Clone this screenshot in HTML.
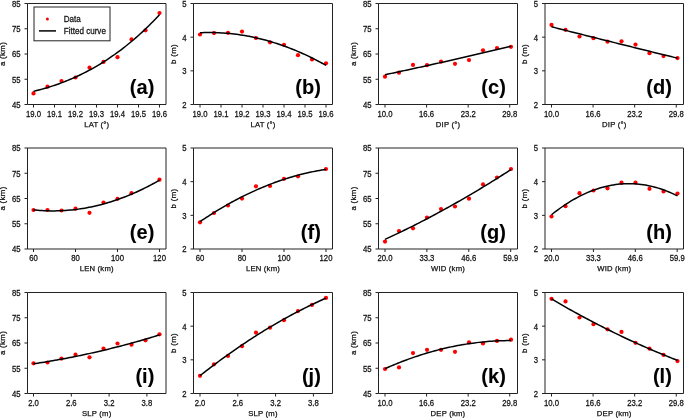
<!DOCTYPE html>
<html><head><meta charset="utf-8"><style>
html,body{margin:0;padding:0;background:#fff;}
svg{display:block;will-change:transform;}
text{font-family:"Liberation Sans",sans-serif;fill:#111;stroke:#111;stroke-width:0.25px;}
text.pl{stroke:#000;stroke-width:0.1px;fill:#000;}
</style></head><body>
<svg width="685" height="418" viewBox="0 0 685 418">
<rect width="685" height="418" fill="#fff"/>
<path d="M27.5 3.5H166V104.5H27.5Z" fill="none" stroke="#222" stroke-width="1"/>
<text transform="translate(33.5 116.7) scale(0.92 1)" font-size="8.4" text-anchor="middle">19.0</text>
<text transform="translate(54.5 116.7) scale(0.92 1)" font-size="8.4" text-anchor="middle">19.1</text>
<text transform="translate(75.5 116.7) scale(0.92 1)" font-size="8.4" text-anchor="middle">19.2</text>
<text transform="translate(96.5 116.7) scale(0.92 1)" font-size="8.4" text-anchor="middle">19.3</text>
<text transform="translate(117.5 116.7) scale(0.92 1)" font-size="8.4" text-anchor="middle">19.4</text>
<text transform="translate(138.5 116.7) scale(0.92 1)" font-size="8.4" text-anchor="middle">19.5</text>
<text transform="translate(159.5 116.7) scale(0.92 1)" font-size="8.4" text-anchor="middle">19.6</text>
<text transform="translate(20.5 107.9) scale(0.92 1)" font-size="8.4" text-anchor="end">45</text>
<text transform="translate(20.5 82.65) scale(0.92 1)" font-size="8.4" text-anchor="end">55</text>
<text transform="translate(20.5 57.4) scale(0.92 1)" font-size="8.4" text-anchor="end">65</text>
<text transform="translate(20.5 32.15) scale(0.92 1)" font-size="8.4" text-anchor="end">75</text>
<text transform="translate(20.5 6.9) scale(0.92 1)" font-size="8.4" text-anchor="end">85</text>
<path d="M33.5 104.5v3M54.5 104.5v3M75.5 104.5v3M96.5 104.5v3M117.5 104.5v3M138.5 104.5v3M159.5 104.5v3M27.5 104.5h-3M27.5 79.25h-3M27.5 54h-3M27.5 28.75h-3M27.5 3.5h-3" stroke="#222" stroke-width="1"/>
<text transform="translate(96.75 126.8)" font-size="7.7" text-anchor="middle" letter-spacing="0.2">LAT (°)</text>
<text transform="translate(5.2 54) rotate(-90)" font-size="7.8" text-anchor="middle" letter-spacing="0.35">a (km)</text>
<circle cx="33.5" cy="93.4" r="2.1" fill="#f00"/>
<circle cx="47.5" cy="86.7" r="2.1" fill="#f00"/>
<circle cx="61.5" cy="81" r="2.1" fill="#f00"/>
<circle cx="75.5" cy="77.5" r="2.1" fill="#f00"/>
<circle cx="89.5" cy="67.7" r="2.1" fill="#f00"/>
<circle cx="103.5" cy="61.9" r="2.1" fill="#f00"/>
<circle cx="117.5" cy="57.2" r="2.1" fill="#f00"/>
<circle cx="131.5" cy="39.4" r="2.1" fill="#f00"/>
<circle cx="145.5" cy="30.3" r="2.1" fill="#f00"/>
<circle cx="159.5" cy="13" r="2.1" fill="#f00"/>
<path d="M33.5 91.36 L35.64 90.84 L37.77 90.3 L39.91 89.73 L42.04 89.15 L44.18 88.55 L46.31 87.92 L48.45 87.27 L50.58 86.6 L52.72 85.91 L54.86 85.2 L56.99 84.46 L59.13 83.7 L61.26 82.91 L63.4 82.11 L65.53 81.27 L67.67 80.41 L69.81 79.53 L71.94 78.62 L74.08 77.69 L76.21 76.72 L78.35 75.74 L80.48 74.72 L82.62 73.68 L84.75 72.61 L86.89 71.51 L89.03 70.38 L91.16 69.22 L93.3 68.04 L95.43 66.82 L97.57 65.58 L99.7 64.3 L101.84 62.99 L103.97 61.66 L106.11 60.29 L108.25 58.88 L110.38 57.45 L112.52 55.98 L114.65 54.49 L116.79 52.95 L118.92 51.39 L121.06 49.79 L123.19 48.15 L125.33 46.48 L127.47 44.78 L129.6 43.04 L131.74 41.26 L133.87 39.45 L136.01 37.6 L138.14 35.71 L140.28 33.79 L142.42 31.83 L144.55 29.83 L146.69 27.79 L148.82 25.71 L150.96 23.59 L153.09 21.44 L155.23 19.24 L157.36 17.01 L159.5 14.73" fill="none" stroke="#000" stroke-width="1.5"/>
<text transform="translate(154.3 94.1)" font-size="20" text-anchor="end" font-weight="bold" class="pl">(a)</text>
<path d="M193.5 3.5H332.5V104.5H193.5Z" fill="none" stroke="#222" stroke-width="1"/>
<text transform="translate(200 116.7) scale(0.92 1)" font-size="8.4" text-anchor="middle">19.0</text>
<text transform="translate(221 116.7) scale(0.92 1)" font-size="8.4" text-anchor="middle">19.1</text>
<text transform="translate(242 116.7) scale(0.92 1)" font-size="8.4" text-anchor="middle">19.2</text>
<text transform="translate(263 116.7) scale(0.92 1)" font-size="8.4" text-anchor="middle">19.3</text>
<text transform="translate(284 116.7) scale(0.92 1)" font-size="8.4" text-anchor="middle">19.4</text>
<text transform="translate(305 116.7) scale(0.92 1)" font-size="8.4" text-anchor="middle">19.5</text>
<text transform="translate(326 116.7) scale(0.92 1)" font-size="8.4" text-anchor="middle">19.6</text>
<text transform="translate(186.5 107.9) scale(0.92 1)" font-size="8.4" text-anchor="end">2</text>
<text transform="translate(186.5 74.23) scale(0.92 1)" font-size="8.4" text-anchor="end">3</text>
<text transform="translate(186.5 40.57) scale(0.92 1)" font-size="8.4" text-anchor="end">4</text>
<text transform="translate(186.5 6.9) scale(0.92 1)" font-size="8.4" text-anchor="end">5</text>
<path d="M200 104.5v3M221 104.5v3M242 104.5v3M263 104.5v3M284 104.5v3M305 104.5v3M326 104.5v3M193.5 104.5h-3M193.5 70.83h-3M193.5 37.17h-3M193.5 3.5h-3" stroke="#222" stroke-width="1"/>
<text transform="translate(263 126.8)" font-size="7.7" text-anchor="middle" letter-spacing="0.2">LAT (°)</text>
<text transform="translate(175.7 54) rotate(-90)" font-size="7.8" text-anchor="middle" letter-spacing="0.35">b (m)</text>
<circle cx="200" cy="34.5" r="2.1" fill="#f00"/>
<circle cx="214" cy="33.1" r="2.1" fill="#f00"/>
<circle cx="228" cy="32.8" r="2.1" fill="#f00"/>
<circle cx="242" cy="31.6" r="2.1" fill="#f00"/>
<circle cx="256" cy="38" r="2.1" fill="#f00"/>
<circle cx="270" cy="42.3" r="2.1" fill="#f00"/>
<circle cx="284" cy="44.8" r="2.1" fill="#f00"/>
<circle cx="298" cy="55.2" r="2.1" fill="#f00"/>
<circle cx="312" cy="59.5" r="2.1" fill="#f00"/>
<circle cx="326" cy="63.3" r="2.1" fill="#f00"/>
<path d="M200 32.75 L202.14 32.66 L204.27 32.6 L206.41 32.56 L208.54 32.54 L210.68 32.55 L212.81 32.57 L214.95 32.62 L217.08 32.69 L219.22 32.78 L221.36 32.89 L223.49 33.03 L225.63 33.19 L227.76 33.37 L229.9 33.57 L232.03 33.79 L234.17 34.03 L236.31 34.3 L238.44 34.59 L240.58 34.9 L242.71 35.23 L244.85 35.59 L246.98 35.96 L249.12 36.36 L251.25 36.78 L253.39 37.23 L255.53 37.69 L257.66 38.18 L259.8 38.69 L261.93 39.22 L264.07 39.77 L266.2 40.34 L268.34 40.94 L270.47 41.56 L272.61 42.2 L274.75 42.86 L276.88 43.54 L279.02 44.25 L281.15 44.98 L283.29 45.73 L285.42 46.5 L287.56 47.29 L289.69 48.11 L291.83 48.94 L293.97 49.8 L296.1 50.68 L298.24 51.59 L300.37 52.51 L302.51 53.46 L304.64 54.43 L306.78 55.42 L308.92 56.43 L311.05 57.47 L313.19 58.53 L315.32 59.6 L317.46 60.71 L319.59 61.83 L321.73 62.97 L323.86 64.14 L326 65.33" fill="none" stroke="#000" stroke-width="1.5"/>
<text transform="translate(320.8 94.1)" font-size="20" text-anchor="end" font-weight="bold" class="pl">(b)</text>
<path d="M378.5 3.5H517.5V104.5H378.5Z" fill="none" stroke="#222" stroke-width="1"/>
<text transform="translate(385 116.7) scale(0.92 1)" font-size="8.4" text-anchor="middle">10.0</text>
<text transform="translate(426.58 116.7) scale(0.92 1)" font-size="8.4" text-anchor="middle">16.6</text>
<text transform="translate(468.16 116.7) scale(0.92 1)" font-size="8.4" text-anchor="middle">23.2</text>
<text transform="translate(509.74 116.7) scale(0.92 1)" font-size="8.4" text-anchor="middle">29.8</text>
<text transform="translate(371.5 107.9) scale(0.92 1)" font-size="8.4" text-anchor="end">45</text>
<text transform="translate(371.5 82.65) scale(0.92 1)" font-size="8.4" text-anchor="end">55</text>
<text transform="translate(371.5 57.4) scale(0.92 1)" font-size="8.4" text-anchor="end">65</text>
<text transform="translate(371.5 32.15) scale(0.92 1)" font-size="8.4" text-anchor="end">75</text>
<text transform="translate(371.5 6.9) scale(0.92 1)" font-size="8.4" text-anchor="end">85</text>
<path d="M385 104.5v3M426.58 104.5v3M468.16 104.5v3M509.74 104.5v3M378.5 104.5h-3M378.5 79.25h-3M378.5 54h-3M378.5 28.75h-3M378.5 3.5h-3" stroke="#222" stroke-width="1"/>
<text transform="translate(448 126.8)" font-size="7.7" text-anchor="middle" letter-spacing="0.2">DIP (°)</text>
<text transform="translate(356.2 54) rotate(-90)" font-size="7.8" text-anchor="middle" letter-spacing="0.35">a (km)</text>
<circle cx="385" cy="76.7" r="2.1" fill="#f00"/>
<circle cx="399" cy="72.7" r="2.1" fill="#f00"/>
<circle cx="413" cy="64.9" r="2.1" fill="#f00"/>
<circle cx="427" cy="65.2" r="2.1" fill="#f00"/>
<circle cx="441" cy="61.7" r="2.1" fill="#f00"/>
<circle cx="455" cy="63.8" r="2.1" fill="#f00"/>
<circle cx="469" cy="60.1" r="2.1" fill="#f00"/>
<circle cx="483" cy="50.3" r="2.1" fill="#f00"/>
<circle cx="497" cy="48" r="2.1" fill="#f00"/>
<circle cx="511" cy="46.8" r="2.1" fill="#f00"/>
<path d="M385 74.74 L387.14 74.28 L389.27 73.83 L391.41 73.38 L393.54 72.92 L395.68 72.46 L397.81 72.01 L399.95 71.55 L402.08 71.09 L404.22 70.63 L406.36 70.16 L408.49 69.7 L410.63 69.24 L412.76 68.77 L414.9 68.31 L417.03 67.84 L419.17 67.37 L421.31 66.9 L423.44 66.43 L425.58 65.96 L427.71 65.49 L429.85 65.02 L431.98 64.54 L434.12 64.07 L436.25 63.59 L438.39 63.11 L440.53 62.63 L442.66 62.15 L444.8 61.67 L446.93 61.19 L449.07 60.71 L451.2 60.23 L453.34 59.74 L455.47 59.25 L457.61 58.77 L459.75 58.28 L461.88 57.79 L464.02 57.3 L466.15 56.81 L468.29 56.32 L470.42 55.82 L472.56 55.33 L474.69 54.83 L476.83 54.34 L478.97 53.84 L481.1 53.34 L483.24 52.84 L485.37 52.34 L487.51 51.84 L489.64 51.34 L491.78 50.83 L493.92 50.33 L496.05 49.82 L498.19 49.32 L500.32 48.81 L502.46 48.3 L504.59 47.79 L506.73 47.28 L508.86 46.77 L511 46.25" fill="none" stroke="#000" stroke-width="1.5"/>
<text transform="translate(505.8 94.1)" font-size="20" text-anchor="end" font-weight="bold" class="pl">(c)</text>
<path d="M545 3.5H683.5V104.5H545Z" fill="none" stroke="#222" stroke-width="1"/>
<text transform="translate(551.5 116.7) scale(0.92 1)" font-size="8.4" text-anchor="middle">10.0</text>
<text transform="translate(593.08 116.7) scale(0.92 1)" font-size="8.4" text-anchor="middle">16.6</text>
<text transform="translate(634.66 116.7) scale(0.92 1)" font-size="8.4" text-anchor="middle">23.2</text>
<text transform="translate(676.24 116.7) scale(0.92 1)" font-size="8.4" text-anchor="middle">29.8</text>
<text transform="translate(538 107.9) scale(0.92 1)" font-size="8.4" text-anchor="end">2</text>
<text transform="translate(538 74.23) scale(0.92 1)" font-size="8.4" text-anchor="end">3</text>
<text transform="translate(538 40.57) scale(0.92 1)" font-size="8.4" text-anchor="end">4</text>
<text transform="translate(538 6.9) scale(0.92 1)" font-size="8.4" text-anchor="end">5</text>
<path d="M551.5 104.5v3M593.08 104.5v3M634.66 104.5v3M676.24 104.5v3M545 104.5h-3M545 70.83h-3M545 37.17h-3M545 3.5h-3" stroke="#222" stroke-width="1"/>
<text transform="translate(614.25 126.8)" font-size="7.7" text-anchor="middle" letter-spacing="0.2">DIP (°)</text>
<text transform="translate(527.2 54) rotate(-90)" font-size="7.8" text-anchor="middle" letter-spacing="0.35">b (m)</text>
<circle cx="551.5" cy="24.9" r="2.1" fill="#f00"/>
<circle cx="565.5" cy="29.8" r="2.1" fill="#f00"/>
<circle cx="579.5" cy="36.5" r="2.1" fill="#f00"/>
<circle cx="593.5" cy="38.2" r="2.1" fill="#f00"/>
<circle cx="607.5" cy="41.7" r="2.1" fill="#f00"/>
<circle cx="621.5" cy="41.3" r="2.1" fill="#f00"/>
<circle cx="635.5" cy="44.6" r="2.1" fill="#f00"/>
<circle cx="649.5" cy="53.2" r="2.1" fill="#f00"/>
<circle cx="663.5" cy="56.1" r="2.1" fill="#f00"/>
<circle cx="677.5" cy="58.1" r="2.1" fill="#f00"/>
<path d="M551.5 26.8 L553.64 27.34 L555.77 27.88 L557.91 28.42 L560.04 28.96 L562.18 29.5 L564.31 30.04 L566.45 30.58 L568.58 31.12 L570.72 31.66 L572.86 32.2 L574.99 32.73 L577.13 33.27 L579.26 33.81 L581.4 34.35 L583.53 34.88 L585.67 35.42 L587.81 35.96 L589.94 36.49 L592.08 37.03 L594.21 37.56 L596.35 38.1 L598.48 38.63 L600.62 39.16 L602.75 39.7 L604.89 40.23 L607.03 40.76 L609.16 41.3 L611.3 41.83 L613.43 42.36 L615.57 42.89 L617.7 43.42 L619.84 43.95 L621.97 44.48 L624.11 45.01 L626.25 45.54 L628.38 46.07 L630.52 46.6 L632.65 47.13 L634.79 47.66 L636.92 48.19 L639.06 48.71 L641.19 49.24 L643.33 49.77 L645.47 50.3 L647.6 50.82 L649.74 51.35 L651.87 51.87 L654.01 52.4 L656.14 52.92 L658.28 53.45 L660.42 53.97 L662.55 54.5 L664.69 55.02 L666.82 55.54 L668.96 56.07 L671.09 56.59 L673.23 57.11 L675.36 57.63 L677.5 58.15" fill="none" stroke="#000" stroke-width="1.5"/>
<text transform="translate(671.8 94.1)" font-size="20" text-anchor="end" font-weight="bold" class="pl">(d)</text>
<path d="M27.5 148H166V249H27.5Z" fill="none" stroke="#222" stroke-width="1"/>
<text transform="translate(33.5 261.2) scale(0.92 1)" font-size="8.4" text-anchor="middle">60</text>
<text transform="translate(75.5 261.2) scale(0.92 1)" font-size="8.4" text-anchor="middle">80</text>
<text transform="translate(117.5 261.2) scale(0.92 1)" font-size="8.4" text-anchor="middle">100</text>
<text transform="translate(159.5 261.2) scale(0.92 1)" font-size="8.4" text-anchor="middle">120</text>
<text transform="translate(20.5 252.4) scale(0.92 1)" font-size="8.4" text-anchor="end">45</text>
<text transform="translate(20.5 227.15) scale(0.92 1)" font-size="8.4" text-anchor="end">55</text>
<text transform="translate(20.5 201.9) scale(0.92 1)" font-size="8.4" text-anchor="end">65</text>
<text transform="translate(20.5 176.65) scale(0.92 1)" font-size="8.4" text-anchor="end">75</text>
<text transform="translate(20.5 151.4) scale(0.92 1)" font-size="8.4" text-anchor="end">85</text>
<path d="M33.5 249v3M75.5 249v3M117.5 249v3M159.5 249v3M27.5 249h-3M27.5 223.75h-3M27.5 198.5h-3M27.5 173.25h-3M27.5 148h-3" stroke="#222" stroke-width="1"/>
<text transform="translate(96.75 271.3)" font-size="7.7" text-anchor="middle" letter-spacing="0.2">LEN (km)</text>
<text transform="translate(5.2 198.5) rotate(-90)" font-size="7.8" text-anchor="middle" letter-spacing="0.35">a (km)</text>
<circle cx="33.5" cy="210" r="2.1" fill="#f00"/>
<circle cx="47.5" cy="210" r="2.1" fill="#f00"/>
<circle cx="61.5" cy="210.5" r="2.1" fill="#f00"/>
<circle cx="75.5" cy="208.7" r="2.1" fill="#f00"/>
<circle cx="89.5" cy="212.8" r="2.1" fill="#f00"/>
<circle cx="103.5" cy="202.5" r="2.1" fill="#f00"/>
<circle cx="117.5" cy="198.8" r="2.1" fill="#f00"/>
<circle cx="131.5" cy="193.2" r="2.1" fill="#f00"/>
<circle cx="159.5" cy="179.7" r="2.1" fill="#f00"/>
<path d="M33.5 209.89 L35.64 210.1 L37.77 210.29 L39.91 210.45 L42.04 210.59 L44.18 210.7 L46.31 210.78 L48.45 210.85 L50.58 210.88 L52.72 210.9 L54.86 210.89 L56.99 210.85 L59.13 210.79 L61.26 210.7 L63.4 210.59 L65.53 210.46 L67.67 210.3 L69.81 210.11 L71.94 209.91 L74.08 209.67 L76.21 209.41 L78.35 209.13 L80.48 208.82 L82.62 208.49 L84.75 208.14 L86.89 207.75 L89.03 207.35 L91.16 206.92 L93.3 206.46 L95.43 205.98 L97.57 205.48 L99.7 204.95 L101.84 204.4 L103.97 203.82 L106.11 203.22 L108.25 202.59 L110.38 201.94 L112.52 201.26 L114.65 200.56 L116.79 199.83 L118.92 199.08 L121.06 198.31 L123.19 197.51 L125.33 196.68 L127.47 195.83 L129.6 194.96 L131.74 194.06 L133.87 193.14 L136.01 192.19 L138.14 191.22 L140.28 190.22 L142.42 189.2 L144.55 188.16 L146.69 187.08 L148.82 185.99 L150.96 184.87 L153.09 183.73 L155.23 182.56 L157.36 181.36 L159.5 180.14" fill="none" stroke="#000" stroke-width="1.5"/>
<text transform="translate(154.3 238.6)" font-size="20" text-anchor="end" font-weight="bold" class="pl">(e)</text>
<path d="M193.5 148H332.5V249H193.5Z" fill="none" stroke="#222" stroke-width="1"/>
<text transform="translate(200 261.2) scale(0.92 1)" font-size="8.4" text-anchor="middle">60</text>
<text transform="translate(242 261.2) scale(0.92 1)" font-size="8.4" text-anchor="middle">80</text>
<text transform="translate(284 261.2) scale(0.92 1)" font-size="8.4" text-anchor="middle">100</text>
<text transform="translate(326 261.2) scale(0.92 1)" font-size="8.4" text-anchor="middle">120</text>
<text transform="translate(186.5 252.4) scale(0.92 1)" font-size="8.4" text-anchor="end">2</text>
<text transform="translate(186.5 218.73) scale(0.92 1)" font-size="8.4" text-anchor="end">3</text>
<text transform="translate(186.5 185.07) scale(0.92 1)" font-size="8.4" text-anchor="end">4</text>
<text transform="translate(186.5 151.4) scale(0.92 1)" font-size="8.4" text-anchor="end">5</text>
<path d="M200 249v3M242 249v3M284 249v3M326 249v3M193.5 249h-3M193.5 215.33h-3M193.5 181.67h-3M193.5 148h-3" stroke="#222" stroke-width="1"/>
<text transform="translate(263 271.3)" font-size="7.7" text-anchor="middle" letter-spacing="0.2">LEN (km)</text>
<text transform="translate(175.7 198.5) rotate(-90)" font-size="7.8" text-anchor="middle" letter-spacing="0.35">b (m)</text>
<circle cx="200" cy="222.3" r="2.1" fill="#f00"/>
<circle cx="214" cy="213" r="2.1" fill="#f00"/>
<circle cx="228" cy="205.5" r="2.1" fill="#f00"/>
<circle cx="242" cy="198.6" r="2.1" fill="#f00"/>
<circle cx="256" cy="186.3" r="2.1" fill="#f00"/>
<circle cx="270" cy="186" r="2.1" fill="#f00"/>
<circle cx="284" cy="178.8" r="2.1" fill="#f00"/>
<circle cx="298" cy="176.3" r="2.1" fill="#f00"/>
<circle cx="326" cy="169" r="2.1" fill="#f00"/>
<path d="M200 221.67 L202.14 220.23 L204.27 218.8 L206.41 217.4 L208.54 216.01 L210.68 214.64 L212.81 213.29 L214.95 211.96 L217.08 210.65 L219.22 209.36 L221.36 208.09 L223.49 206.84 L225.63 205.61 L227.76 204.39 L229.9 203.2 L232.03 202.02 L234.17 200.87 L236.31 199.73 L238.44 198.61 L240.58 197.52 L242.71 196.44 L244.85 195.38 L246.98 194.34 L249.12 193.32 L251.25 192.31 L253.39 191.33 L255.53 190.37 L257.66 189.42 L259.8 188.5 L261.93 187.59 L264.07 186.71 L266.2 185.84 L268.34 184.99 L270.47 184.17 L272.61 183.36 L274.75 182.57 L276.88 181.8 L279.02 181.04 L281.15 180.31 L283.29 179.6 L285.42 178.91 L287.56 178.23 L289.69 177.58 L291.83 176.94 L293.97 176.32 L296.1 175.73 L298.24 175.15 L300.37 174.59 L302.51 174.05 L304.64 173.53 L306.78 173.03 L308.92 172.55 L311.05 172.09 L313.19 171.64 L315.32 171.22 L317.46 170.81 L319.59 170.43 L321.73 170.06 L323.86 169.72 L326 169.39" fill="none" stroke="#000" stroke-width="1.5"/>
<text transform="translate(320.8 238.6)" font-size="20" text-anchor="end" font-weight="bold" class="pl">(f)</text>
<path d="M378.5 148H517.5V249H378.5Z" fill="none" stroke="#222" stroke-width="1"/>
<text transform="translate(385 261.2) scale(0.92 1)" font-size="8.4" text-anchor="middle">20.0</text>
<text transform="translate(426.89 261.2) scale(0.92 1)" font-size="8.4" text-anchor="middle">33.3</text>
<text transform="translate(468.79 261.2) scale(0.92 1)" font-size="8.4" text-anchor="middle">46.6</text>
<text transform="translate(510.69 261.2) scale(0.92 1)" font-size="8.4" text-anchor="middle">59.9</text>
<text transform="translate(371.5 252.4) scale(0.92 1)" font-size="8.4" text-anchor="end">45</text>
<text transform="translate(371.5 227.15) scale(0.92 1)" font-size="8.4" text-anchor="end">55</text>
<text transform="translate(371.5 201.9) scale(0.92 1)" font-size="8.4" text-anchor="end">65</text>
<text transform="translate(371.5 176.65) scale(0.92 1)" font-size="8.4" text-anchor="end">75</text>
<text transform="translate(371.5 151.4) scale(0.92 1)" font-size="8.4" text-anchor="end">85</text>
<path d="M385 249v3M426.89 249v3M468.79 249v3M510.69 249v3M378.5 249h-3M378.5 223.75h-3M378.5 198.5h-3M378.5 173.25h-3M378.5 148h-3" stroke="#222" stroke-width="1"/>
<text transform="translate(448 271.3)" font-size="7.7" text-anchor="middle" letter-spacing="0.2">WID (km)</text>
<text transform="translate(356.2 198.5) rotate(-90)" font-size="7.8" text-anchor="middle" letter-spacing="0.35">a (km)</text>
<circle cx="385" cy="241.6" r="2.1" fill="#f00"/>
<circle cx="399" cy="231.1" r="2.1" fill="#f00"/>
<circle cx="413" cy="228.3" r="2.1" fill="#f00"/>
<circle cx="427" cy="217.6" r="2.1" fill="#f00"/>
<circle cx="441" cy="209" r="2.1" fill="#f00"/>
<circle cx="455" cy="206.5" r="2.1" fill="#f00"/>
<circle cx="469" cy="198.7" r="2.1" fill="#f00"/>
<circle cx="483" cy="184.4" r="2.1" fill="#f00"/>
<circle cx="497" cy="177.5" r="2.1" fill="#f00"/>
<circle cx="511" cy="169" r="2.1" fill="#f00"/>
<path d="M385 239.43 L387.14 238.44 L389.27 237.44 L391.41 236.44 L393.54 235.43 L395.68 234.42 L397.81 233.39 L399.95 232.37 L402.08 231.33 L404.22 230.29 L406.36 229.24 L408.49 228.18 L410.63 227.12 L412.76 226.05 L414.9 224.97 L417.03 223.89 L419.17 222.8 L421.31 221.7 L423.44 220.6 L425.58 219.49 L427.71 218.37 L429.85 217.25 L431.98 216.11 L434.12 214.98 L436.25 213.83 L438.39 212.68 L440.53 211.52 L442.66 210.36 L444.8 209.19 L446.93 208.01 L449.07 206.82 L451.2 205.63 L453.34 204.43 L455.47 203.23 L457.61 202.02 L459.75 200.8 L461.88 199.57 L464.02 198.34 L466.15 197.1 L468.29 195.86 L470.42 194.6 L472.56 193.34 L474.69 192.08 L476.83 190.8 L478.97 189.52 L481.1 188.24 L483.24 186.94 L485.37 185.64 L487.51 184.34 L489.64 183.02 L491.78 181.7 L493.92 180.38 L496.05 179.04 L498.19 177.7 L500.32 176.35 L502.46 175 L504.59 173.64 L506.73 172.27 L508.86 170.9 L511 169.52" fill="none" stroke="#000" stroke-width="1.5"/>
<text transform="translate(505.8 238.6)" font-size="20" text-anchor="end" font-weight="bold" class="pl">(g)</text>
<path d="M545 148H683.5V249H545Z" fill="none" stroke="#222" stroke-width="1"/>
<text transform="translate(551.5 261.2) scale(0.92 1)" font-size="8.4" text-anchor="middle">20.0</text>
<text transform="translate(593.39 261.2) scale(0.92 1)" font-size="8.4" text-anchor="middle">33.3</text>
<text transform="translate(635.29 261.2) scale(0.92 1)" font-size="8.4" text-anchor="middle">46.6</text>
<text transform="translate(677.18 261.2) scale(0.92 1)" font-size="8.4" text-anchor="middle">59.9</text>
<text transform="translate(538 252.4) scale(0.92 1)" font-size="8.4" text-anchor="end">2</text>
<text transform="translate(538 218.73) scale(0.92 1)" font-size="8.4" text-anchor="end">3</text>
<text transform="translate(538 185.07) scale(0.92 1)" font-size="8.4" text-anchor="end">4</text>
<text transform="translate(538 151.4) scale(0.92 1)" font-size="8.4" text-anchor="end">5</text>
<path d="M551.5 249v3M593.39 249v3M635.29 249v3M677.18 249v3M545 249h-3M545 215.33h-3M545 181.67h-3M545 148h-3" stroke="#222" stroke-width="1"/>
<text transform="translate(614.25 271.3)" font-size="7.7" text-anchor="middle" letter-spacing="0.2">WID (km)</text>
<text transform="translate(527.2 198.5) rotate(-90)" font-size="7.8" text-anchor="middle" letter-spacing="0.35">b (m)</text>
<circle cx="551.5" cy="216.5" r="2.1" fill="#f00"/>
<circle cx="565.5" cy="206.2" r="2.1" fill="#f00"/>
<circle cx="579.5" cy="193.2" r="2.1" fill="#f00"/>
<circle cx="593.5" cy="190.5" r="2.1" fill="#f00"/>
<circle cx="607.5" cy="188.3" r="2.1" fill="#f00"/>
<circle cx="621.5" cy="182.7" r="2.1" fill="#f00"/>
<circle cx="635.5" cy="182.7" r="2.1" fill="#f00"/>
<circle cx="649.5" cy="188.8" r="2.1" fill="#f00"/>
<circle cx="663.5" cy="191.4" r="2.1" fill="#f00"/>
<circle cx="677.5" cy="193.5" r="2.1" fill="#f00"/>
<path d="M551.5 214.72 L553.64 213.03 L555.77 211.39 L557.91 209.79 L560.04 208.25 L562.18 206.75 L564.31 205.29 L566.45 203.89 L568.58 202.53 L570.72 201.22 L572.86 199.95 L574.99 198.74 L577.13 197.57 L579.26 196.44 L581.4 195.37 L583.53 194.34 L585.67 193.36 L587.81 192.43 L589.94 191.54 L592.08 190.7 L594.21 189.91 L596.35 189.17 L598.48 188.47 L600.62 187.82 L602.75 187.22 L604.89 186.66 L607.03 186.15 L609.16 185.69 L611.3 185.28 L613.43 184.91 L615.57 184.59 L617.7 184.32 L619.84 184.09 L621.97 183.92 L624.11 183.79 L626.25 183.7 L628.38 183.67 L630.52 183.68 L632.65 183.74 L634.79 183.84 L636.92 183.99 L639.06 184.19 L641.19 184.44 L643.33 184.74 L645.47 185.08 L647.6 185.47 L649.74 185.9 L651.87 186.39 L654.01 186.92 L656.14 187.5 L658.28 188.12 L660.42 188.79 L662.55 189.51 L664.69 190.28 L666.82 191.09 L668.96 191.95 L671.09 192.86 L673.23 193.82 L675.36 194.82 L677.5 195.87" fill="none" stroke="#000" stroke-width="1.5"/>
<text transform="translate(671.8 238.6)" font-size="20" text-anchor="end" font-weight="bold" class="pl">(h)</text>
<path d="M27.5 292.5H166V393.5H27.5Z" fill="none" stroke="#222" stroke-width="1"/>
<text transform="translate(33.5 405.7) scale(0.92 1)" font-size="8.4" text-anchor="middle">2.0</text>
<text transform="translate(71.3 405.7) scale(0.92 1)" font-size="8.4" text-anchor="middle">2.6</text>
<text transform="translate(109.1 405.7) scale(0.92 1)" font-size="8.4" text-anchor="middle">3.2</text>
<text transform="translate(146.9 405.7) scale(0.92 1)" font-size="8.4" text-anchor="middle">3.8</text>
<text transform="translate(20.5 396.9) scale(0.92 1)" font-size="8.4" text-anchor="end">45</text>
<text transform="translate(20.5 371.65) scale(0.92 1)" font-size="8.4" text-anchor="end">55</text>
<text transform="translate(20.5 346.4) scale(0.92 1)" font-size="8.4" text-anchor="end">65</text>
<text transform="translate(20.5 321.15) scale(0.92 1)" font-size="8.4" text-anchor="end">75</text>
<text transform="translate(20.5 295.9) scale(0.92 1)" font-size="8.4" text-anchor="end">85</text>
<path d="M33.5 393.5v3M71.3 393.5v3M109.1 393.5v3M146.9 393.5v3M27.5 393.5h-3M27.5 368.25h-3M27.5 343h-3M27.5 317.75h-3M27.5 292.5h-3" stroke="#222" stroke-width="1"/>
<text transform="translate(96.75 415.8)" font-size="7.7" text-anchor="middle" letter-spacing="0.2">SLP (m)</text>
<text transform="translate(5.2 343) rotate(-90)" font-size="7.8" text-anchor="middle" letter-spacing="0.35">a (km)</text>
<circle cx="33.5" cy="363.3" r="2.1" fill="#f00"/>
<circle cx="47.5" cy="362.5" r="2.1" fill="#f00"/>
<circle cx="61.5" cy="358.6" r="2.1" fill="#f00"/>
<circle cx="75.5" cy="354.7" r="2.1" fill="#f00"/>
<circle cx="89.5" cy="357.3" r="2.1" fill="#f00"/>
<circle cx="103.5" cy="348.5" r="2.1" fill="#f00"/>
<circle cx="117.5" cy="343.5" r="2.1" fill="#f00"/>
<circle cx="131.5" cy="344.7" r="2.1" fill="#f00"/>
<circle cx="145.5" cy="340.3" r="2.1" fill="#f00"/>
<circle cx="159.5" cy="334.3" r="2.1" fill="#f00"/>
<path d="M33.5 363.79 L35.64 363.48 L37.77 363.15 L39.91 362.82 L42.04 362.49 L44.18 362.15 L46.31 361.8 L48.45 361.45 L50.58 361.09 L52.72 360.72 L54.86 360.35 L56.99 359.97 L59.13 359.59 L61.26 359.2 L63.4 358.81 L65.53 358.41 L67.67 358 L69.81 357.59 L71.94 357.17 L74.08 356.75 L76.21 356.32 L78.35 355.88 L80.48 355.44 L82.62 354.99 L84.75 354.54 L86.89 354.08 L89.03 353.61 L91.16 353.14 L93.3 352.66 L95.43 352.18 L97.57 351.69 L99.7 351.19 L101.84 350.69 L103.97 350.19 L106.11 349.67 L108.25 349.15 L110.38 348.63 L112.52 348.1 L114.65 347.56 L116.79 347.02 L118.92 346.47 L121.06 345.92 L123.19 345.35 L125.33 344.79 L127.47 344.22 L129.6 343.64 L131.74 343.05 L133.87 342.46 L136.01 341.87 L138.14 341.27 L140.28 340.66 L142.42 340.04 L144.55 339.42 L146.69 338.8 L148.82 338.17 L150.96 337.53 L153.09 336.89 L155.23 336.24 L157.36 335.58 L159.5 334.92" fill="none" stroke="#000" stroke-width="1.5"/>
<text transform="translate(154.3 383.1)" font-size="20" text-anchor="end" font-weight="bold" class="pl">(i)</text>
<path d="M193.5 292.5H332.5V393.5H193.5Z" fill="none" stroke="#222" stroke-width="1"/>
<text transform="translate(200 405.7) scale(0.92 1)" font-size="8.4" text-anchor="middle">2.0</text>
<text transform="translate(237.8 405.7) scale(0.92 1)" font-size="8.4" text-anchor="middle">2.6</text>
<text transform="translate(275.6 405.7) scale(0.92 1)" font-size="8.4" text-anchor="middle">3.2</text>
<text transform="translate(313.4 405.7) scale(0.92 1)" font-size="8.4" text-anchor="middle">3.8</text>
<text transform="translate(186.5 396.9) scale(0.92 1)" font-size="8.4" text-anchor="end">2</text>
<text transform="translate(186.5 363.23) scale(0.92 1)" font-size="8.4" text-anchor="end">3</text>
<text transform="translate(186.5 329.57) scale(0.92 1)" font-size="8.4" text-anchor="end">4</text>
<text transform="translate(186.5 295.9) scale(0.92 1)" font-size="8.4" text-anchor="end">5</text>
<path d="M200 393.5v3M237.8 393.5v3M275.6 393.5v3M313.4 393.5v3M193.5 393.5h-3M193.5 359.83h-3M193.5 326.17h-3M193.5 292.5h-3" stroke="#222" stroke-width="1"/>
<text transform="translate(263 415.8)" font-size="7.7" text-anchor="middle" letter-spacing="0.2">SLP (m)</text>
<text transform="translate(175.7 343) rotate(-90)" font-size="7.8" text-anchor="middle" letter-spacing="0.35">b (m)</text>
<circle cx="200" cy="375.8" r="2.1" fill="#f00"/>
<circle cx="214" cy="364.3" r="2.1" fill="#f00"/>
<circle cx="228" cy="355.9" r="2.1" fill="#f00"/>
<circle cx="242" cy="346.2" r="2.1" fill="#f00"/>
<circle cx="256" cy="332.6" r="2.1" fill="#f00"/>
<circle cx="270" cy="327.7" r="2.1" fill="#f00"/>
<circle cx="284" cy="320.2" r="2.1" fill="#f00"/>
<circle cx="298" cy="311.1" r="2.1" fill="#f00"/>
<circle cx="312" cy="304.9" r="2.1" fill="#f00"/>
<circle cx="326" cy="297.9" r="2.1" fill="#f00"/>
<path d="M200 375.69 L202.14 374.01 L204.27 372.34 L206.41 370.68 L208.54 369.04 L210.68 367.4 L212.81 365.79 L214.95 364.18 L217.08 362.59 L219.22 361 L221.36 359.44 L223.49 357.88 L225.63 356.34 L227.76 354.81 L229.9 353.29 L232.03 351.79 L234.17 350.29 L236.31 348.81 L238.44 347.35 L240.58 345.89 L242.71 344.45 L244.85 343.02 L246.98 341.6 L249.12 340.2 L251.25 338.81 L253.39 337.43 L255.53 336.06 L257.66 334.71 L259.8 333.37 L261.93 332.04 L264.07 330.73 L266.2 329.43 L268.34 328.14 L270.47 326.86 L272.61 325.59 L274.75 324.34 L276.88 323.1 L279.02 321.87 L281.15 320.66 L283.29 319.46 L285.42 318.27 L287.56 317.09 L289.69 315.93 L291.83 314.78 L293.97 313.64 L296.1 312.51 L298.24 311.4 L300.37 310.3 L302.51 309.21 L304.64 308.14 L306.78 307.08 L308.92 306.03 L311.05 304.99 L313.19 303.96 L315.32 302.95 L317.46 301.95 L319.59 300.97 L321.73 299.99 L323.86 299.03 L326 298.08" fill="none" stroke="#000" stroke-width="1.5"/>
<text transform="translate(320.8 383.1)" font-size="20" text-anchor="end" font-weight="bold" class="pl">(j)</text>
<path d="M378.5 292.5H517.5V393.5H378.5Z" fill="none" stroke="#222" stroke-width="1"/>
<text transform="translate(385 405.7) scale(0.92 1)" font-size="8.4" text-anchor="middle">10.0</text>
<text transform="translate(426.58 405.7) scale(0.92 1)" font-size="8.4" text-anchor="middle">16.6</text>
<text transform="translate(468.16 405.7) scale(0.92 1)" font-size="8.4" text-anchor="middle">23.2</text>
<text transform="translate(509.74 405.7) scale(0.92 1)" font-size="8.4" text-anchor="middle">29.8</text>
<text transform="translate(371.5 396.9) scale(0.92 1)" font-size="8.4" text-anchor="end">45</text>
<text transform="translate(371.5 371.65) scale(0.92 1)" font-size="8.4" text-anchor="end">55</text>
<text transform="translate(371.5 346.4) scale(0.92 1)" font-size="8.4" text-anchor="end">65</text>
<text transform="translate(371.5 321.15) scale(0.92 1)" font-size="8.4" text-anchor="end">75</text>
<text transform="translate(371.5 295.9) scale(0.92 1)" font-size="8.4" text-anchor="end">85</text>
<path d="M385 393.5v3M426.58 393.5v3M468.16 393.5v3M509.74 393.5v3M378.5 393.5h-3M378.5 368.25h-3M378.5 343h-3M378.5 317.75h-3M378.5 292.5h-3" stroke="#222" stroke-width="1"/>
<text transform="translate(448 415.8)" font-size="7.7" text-anchor="middle" letter-spacing="0.2">DEP (km)</text>
<text transform="translate(356.2 343) rotate(-90)" font-size="7.8" text-anchor="middle" letter-spacing="0.35">a (km)</text>
<circle cx="385" cy="369" r="2.1" fill="#f00"/>
<circle cx="399" cy="367.4" r="2.1" fill="#f00"/>
<circle cx="413" cy="353.1" r="2.1" fill="#f00"/>
<circle cx="427" cy="349.8" r="2.1" fill="#f00"/>
<circle cx="441" cy="349.8" r="2.1" fill="#f00"/>
<circle cx="455" cy="351.8" r="2.1" fill="#f00"/>
<circle cx="469" cy="342.4" r="2.1" fill="#f00"/>
<circle cx="483" cy="343.4" r="2.1" fill="#f00"/>
<circle cx="497" cy="340.9" r="2.1" fill="#f00"/>
<circle cx="511" cy="339.7" r="2.1" fill="#f00"/>
<path d="M385 368.65 L387.14 367.7 L389.27 366.78 L391.41 365.87 L393.54 364.97 L395.68 364.09 L397.81 363.23 L399.95 362.38 L402.08 361.55 L404.22 360.74 L406.36 359.94 L408.49 359.15 L410.63 358.39 L412.76 357.64 L414.9 356.9 L417.03 356.19 L419.17 355.48 L421.31 354.8 L423.44 354.13 L425.58 353.48 L427.71 352.84 L429.85 352.22 L431.98 351.61 L434.12 351.02 L436.25 350.45 L438.39 349.89 L440.53 349.35 L442.66 348.83 L444.8 348.32 L446.93 347.83 L449.07 347.35 L451.2 346.89 L453.34 346.45 L455.47 346.02 L457.61 345.61 L459.75 345.21 L461.88 344.83 L464.02 344.47 L466.15 344.12 L468.29 343.79 L470.42 343.48 L472.56 343.18 L474.69 342.9 L476.83 342.63 L478.97 342.38 L481.1 342.15 L483.24 341.93 L485.37 341.73 L487.51 341.54 L489.64 341.37 L491.78 341.22 L493.92 341.08 L496.05 340.96 L498.19 340.85 L500.32 340.76 L502.46 340.69 L504.59 340.64 L506.73 340.59 L508.86 340.57 L511 340.56" fill="none" stroke="#000" stroke-width="1.5"/>
<text transform="translate(505.8 383.1)" font-size="20" text-anchor="end" font-weight="bold" class="pl">(k)</text>
<path d="M545 292.5H683.5V393.5H545Z" fill="none" stroke="#222" stroke-width="1"/>
<text transform="translate(551.5 405.7) scale(0.92 1)" font-size="8.4" text-anchor="middle">10.0</text>
<text transform="translate(593.08 405.7) scale(0.92 1)" font-size="8.4" text-anchor="middle">16.6</text>
<text transform="translate(634.66 405.7) scale(0.92 1)" font-size="8.4" text-anchor="middle">23.2</text>
<text transform="translate(676.24 405.7) scale(0.92 1)" font-size="8.4" text-anchor="middle">29.8</text>
<text transform="translate(538 396.9) scale(0.92 1)" font-size="8.4" text-anchor="end">2</text>
<text transform="translate(538 363.23) scale(0.92 1)" font-size="8.4" text-anchor="end">3</text>
<text transform="translate(538 329.57) scale(0.92 1)" font-size="8.4" text-anchor="end">4</text>
<text transform="translate(538 295.9) scale(0.92 1)" font-size="8.4" text-anchor="end">5</text>
<path d="M551.5 393.5v3M593.08 393.5v3M634.66 393.5v3M676.24 393.5v3M545 393.5h-3M545 359.83h-3M545 326.17h-3M545 292.5h-3" stroke="#222" stroke-width="1"/>
<text transform="translate(614.25 415.8)" font-size="7.7" text-anchor="middle" letter-spacing="0.2">DEP (km)</text>
<text transform="translate(527.2 343) rotate(-90)" font-size="7.8" text-anchor="middle" letter-spacing="0.35">b (m)</text>
<circle cx="551.5" cy="298.8" r="2.1" fill="#f00"/>
<circle cx="565.5" cy="301.4" r="2.1" fill="#f00"/>
<circle cx="579.5" cy="317.5" r="2.1" fill="#f00"/>
<circle cx="593.5" cy="324.2" r="2.1" fill="#f00"/>
<circle cx="607.5" cy="329.3" r="2.1" fill="#f00"/>
<circle cx="621.5" cy="331.9" r="2.1" fill="#f00"/>
<circle cx="635.5" cy="342.8" r="2.1" fill="#f00"/>
<circle cx="649.5" cy="348.7" r="2.1" fill="#f00"/>
<circle cx="663.5" cy="354.9" r="2.1" fill="#f00"/>
<circle cx="677.5" cy="361.1" r="2.1" fill="#f00"/>
<path d="M551.5 298.97 L553.64 300.22 L555.77 301.47 L557.91 302.7 L560.04 303.94 L562.18 305.16 L564.31 306.38 L566.45 307.59 L568.58 308.79 L570.72 309.98 L572.86 311.17 L574.99 312.35 L577.13 313.52 L579.26 314.69 L581.4 315.85 L583.53 317 L585.67 318.14 L587.81 319.28 L589.94 320.41 L592.08 321.53 L594.21 322.64 L596.35 323.75 L598.48 324.85 L600.62 325.94 L602.75 327.03 L604.89 328.1 L607.03 329.17 L609.16 330.24 L611.3 331.29 L613.43 332.34 L615.57 333.38 L617.7 334.41 L619.84 335.44 L621.97 336.46 L624.11 337.47 L626.25 338.47 L628.38 339.47 L630.52 340.46 L632.65 341.44 L634.79 342.42 L636.92 343.38 L639.06 344.34 L641.19 345.3 L643.33 346.24 L645.47 347.18 L647.6 348.11 L649.74 349.03 L651.87 349.95 L654.01 350.86 L656.14 351.76 L658.28 352.65 L660.42 353.54 L662.55 354.42 L664.69 355.29 L666.82 356.16 L668.96 357.01 L671.09 357.86 L673.23 358.71 L675.36 359.54 L677.5 360.37" fill="none" stroke="#000" stroke-width="1.5"/>
<text transform="translate(671.8 383.1)" font-size="20" text-anchor="end" font-weight="bold" class="pl">(l)</text>
<rect x="34" y="7" width="76" height="33.8" fill="#fff" stroke="#222" stroke-width="1"/>
<circle cx="47.4" cy="19.1" r="1.5" fill="#f00"/>
<path d="M39 30.9H56" stroke="#000" stroke-width="1.5"/>
<text transform="translate(63.7 22) scale(0.92 1)" font-size="8.8">Data</text>
<text transform="translate(63.7 33.8) scale(0.92 1)" font-size="8.8">Fitted curve</text>
</svg>
</body></html>
